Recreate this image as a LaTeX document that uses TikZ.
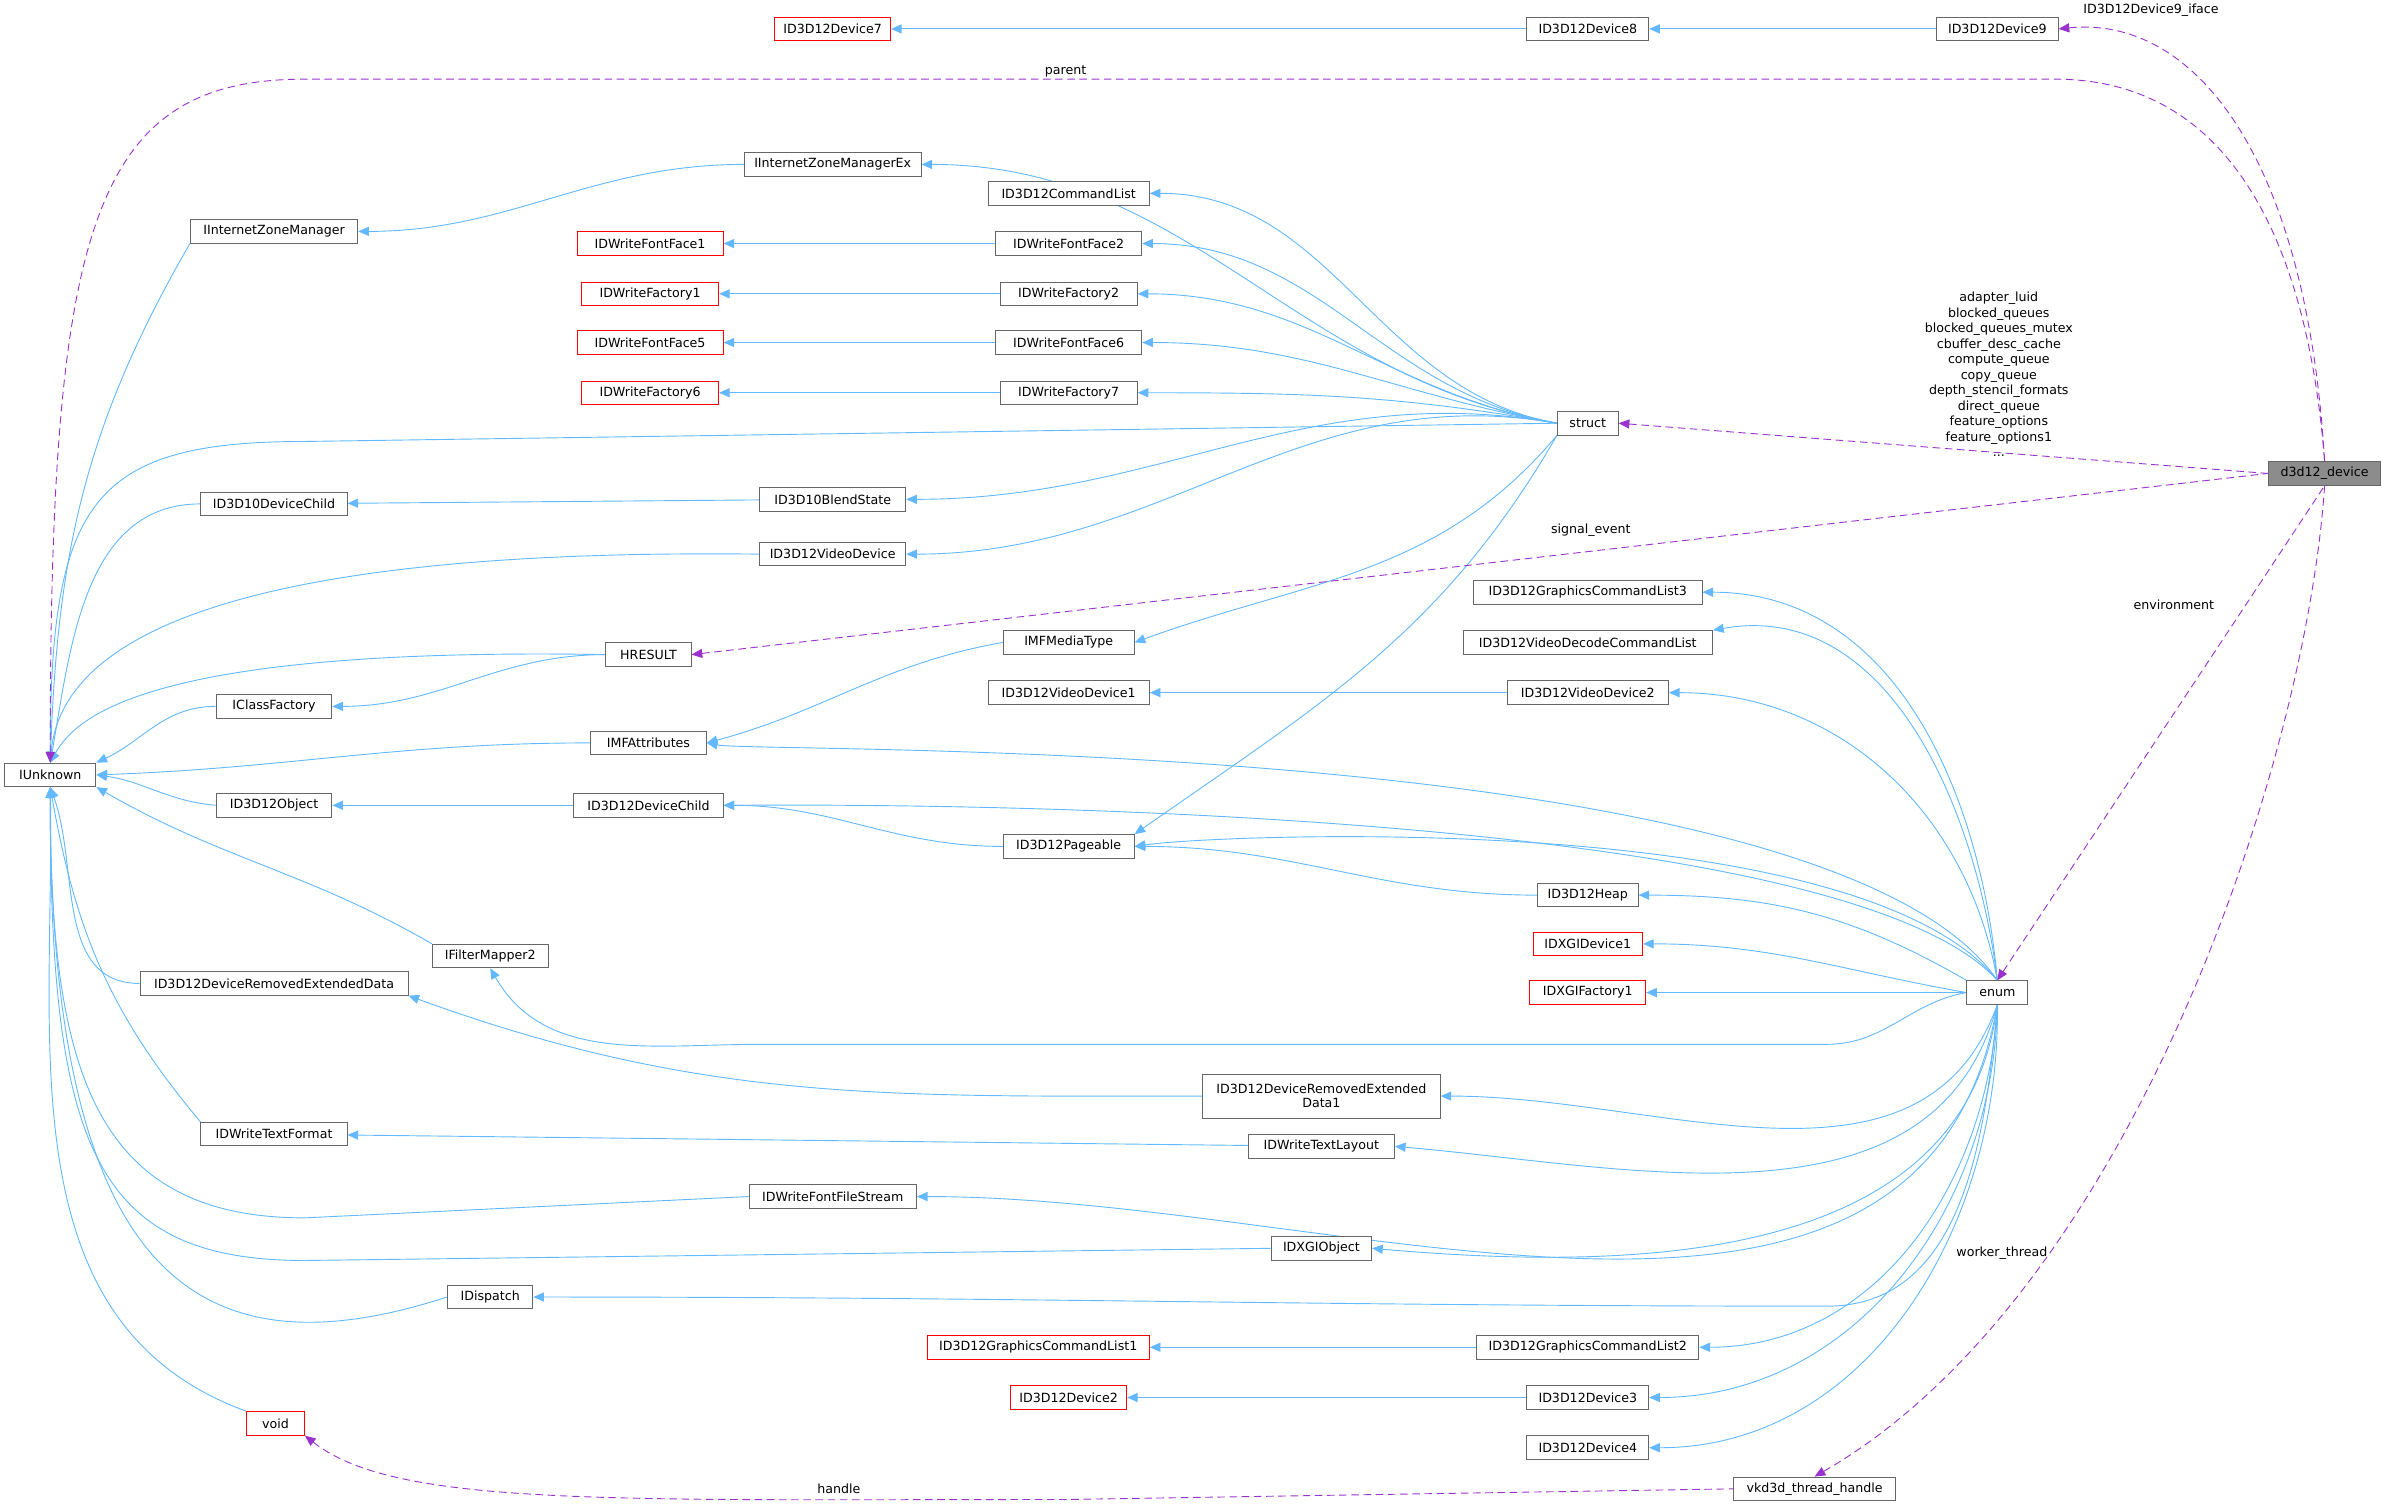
\documentclass[tikz,border=0pt]{standalone}
\usepackage{fontspec}
\setmainfont{DejaVu Sans}
\usetikzlibrary{arrows.meta}
\definecolor{eb}{HTML}{63B8FF}
\definecolor{ep}{HTML}{9A32CD}
\pgfdeclarelayer{bg}
\pgfsetlayers{bg,main}
\begin{document}
\begin{tikzpicture}[x=1pt,y=-1pt,
 n/.style={draw=black!60,fill=white,font=\fontsize{8.3}{9.2}\selectfont,inner sep=0pt,minimum height=15.5pt,line width=0.6pt,align=center},
 r/.style={n,draw=red},
 inh/.style={draw=eb,line width=0.6pt,{Triangle[length=7pt,width=6pt,fill=eb]}-},
 dep/.style={draw=ep,line width=0.6pt,dash pattern=on 5pt off 3pt,{Triangle[length=7pt,width=6pt,fill=ep]}-},
 lb/.style={font=\fontsize{8.3}{10.2}\selectfont,align=center,inner sep=1pt}]
\useasboundingbox (0,0) rectangle (1568,990);
\def\N#1#2#3#4#5{\node[#1,minimum width=#4pt] (#2) at #3 {#5};}
\N{n}{IU}{(33,509)}{60}{IUnknown}
\N{n}{IIZM}{(180,152)}{110}{IInternetZoneManager}
\N{n}{D10DC}{(180,331)}{96}{ID3D10DeviceChild}
\N{n}{ICF}{(180,464)}{76}{IClassFactory}
\N{n}{D12O}{(180,529)}{76}{ID3D12Object}
\N{n}{DRED}{(180,646)}{176}{ID3D12DeviceRemovedExtendedData}
\N{n}{TF}{(180,745)}{96}{IDWriteTextFormat}
\N{n}{IDisp}{(322,852)}{56}{IDispatch}
\N{r}{void}{(181,935)}{38}{void}
\N{n}{IFM2}{(322,628)}{76}{IFilterMapper2}
\N{n}{HR}{(426,430)}{56}{HRESULT}
\N{n}{IMFA}{(426,488)}{76}{IMFAttributes}
\N{n}{D12DC}{(426,529)}{98}{ID3D12DeviceChild}
\N{n}{IIZMEx}{(547,108)}{116}{IInternetZoneManagerEx}
\N{n}{BS}{(547,328)}{96}{ID3D10BlendState}
\N{n}{VD}{(547,364)}{96}{ID3D12VideoDevice}
\N{n}{FFS}{(547,786)}{110}{IDWriteFontFileStream}
\N{r}{Dev7}{(547,19)}{76}{ID3D12Device7}
\N{n}{CL}{(702,127)}{106}{ID3D12CommandList}
\N{n}{FF2}{(702,160)}{96}{IDWriteFontFace2}
\N{n}{F2}{(702,193)}{90}{IDWriteFactory2}
\N{n}{FF6}{(702,225)}{96}{IDWriteFontFace6}
\N{n}{F7}{(702,258)}{90}{IDWriteFactory7}
\N{r}{FF1}{(427,160)}{96}{IDWriteFontFace1}
\N{r}{F1}{(427,193)}{90}{IDWriteFactory1}
\N{r}{FF5}{(427,225)}{96}{IDWriteFontFace5}
\N{r}{F6}{(427,258)}{90}{IDWriteFactory6}
\N{n}{MT}{(702,422)}{86}{IMFMediaType}
\N{n}{VD1}{(702,455)}{106}{ID3D12VideoDevice1}
\N{n}{PG}{(702,556)}{86}{ID3D12Pageable}
\N{n}{Dev8}{(1043,19)}{80}{ID3D12Device8}
\N{n}{Dev9}{(1312,19)}{80}{ID3D12Device9}
\N{n}{struct}{(1043,278)}{40}{struct}
\N{n}{GCL3}{(1043,389)}{150}{ID3D12GraphicsCommandList3}
\N{n}{VDCL}{(1043,422)}{164}{ID3D12VideoDecodeCommandList}
\N{n}{VD2}{(1043,455)}{106}{ID3D12VideoDevice2}
\N{n}{Heap}{(1043,588)}{66}{ID3D12Heap}
\N{r}{XD1}{(1043,620)}{72}{IDXGIDevice1}
\N{r}{XF1}{(1043,652)}{76}{IDXGIFactory1}
\node[n,minimum width=156pt,minimum height=29pt] (DRED1) at (868,720) {ID3D12DeviceRemovedExtended\\Data1};
\N{n}{TL}{(868,753)}{96}{IDWriteTextLayout}
\N{n}{XO}{(868,820)}{66}{IDXGIObject}
\N{r}{GCL1}{(682,885)}{146}{ID3D12GraphicsCommandList1}
\N{n}{GCL2}{(1043,885)}{146}{ID3D12GraphicsCommandList2}
\N{r}{Dev2}{(702,918)}{76}{ID3D12Device2}
\N{n}{Dev3}{(1043,918)}{80}{ID3D12Device3}
\N{n}{Dev4}{(1043,951)}{80}{ID3D12Device4}
\N{n}{VTH}{(1192,978)}{106}{vkd3d\_thread\_handle}
\N{n}{enum}{(1312,652)}{40}{enum}
\node[n,fill=black!45,minimum width=74pt] (DEV) at (1527,311) {d3d12\_device};
\begin{pgfonlayer}{bg}
% chains
\draw[inh] (Dev7) -- (Dev8); \draw[inh] (Dev8) -- (Dev9);
\foreach \a/\b in {FF1/FF2,F1/F2,FF5/FF6,F6/F7,D10DC/BS,D12O/D12DC,VD1/VD2,TF/TL,GCL1/GCL2,Dev2/Dev3}
 \draw[inh] (\a) -- (\b);
\draw[inh] (IIZM.east) to[out=0,in=180] (IIZMEx.west);
\draw[inh] (ICF.east) to[out=0,in=180] (HR.west);
\draw[inh] (IMFA.east) to[out=15,in=190] (MT.west);
\draw[inh] (D12DC.east) to[out=0,in=180] (PG.west);
\draw[inh] (PG.east) to[out=0,in=180] (Heap.west);
\draw[inh] (DRED.south east) to[out=-20,in=180] (DRED1.west);
% IUnknown fan
\draw[inh] (IU.north) to[out=88,in=-120] (IIZM.south west);
\draw[inh] (IU.north) .. controls (33,330) and (60,290) .. (200,290) -- (struct.west);
\draw[inh] (IU.north) to[out=80,in=180] (D10DC.west);
\draw[inh] (IU.north) .. controls (40,420) and (150,360) .. (VD.west);
\draw[inh] (IU.north) .. controls (50,470) and (100,425) .. (HR.west);
\draw[inh] (IU.north east) to[out=25,in=180] (ICF.west);
\draw[inh] (IU.east) to[out=2,in=180] (IMFA.west);
\draw[inh] (IU.east) to[out=-8,in=175] (D12O.west);
\draw[inh] (IU.south east) to[out=-30,in=150] (IFM2.north west);
\draw[inh] (IU.south) to[out=-70,in=180] (DRED.west);
\draw[inh] (IU.south) to[out=-80,in=130] (TF.north west);
\draw[inh] (IU.south) .. controls (33,700) and (60,800) .. (200,800) -- (FFS.west);
\draw[inh] (IU.south) .. controls (33,750) and (60,828) .. (200,828) -- (XO.west);
\draw[inh] (IU.south) .. controls (33,840) and (130,905) .. (IDisp.west);
\draw[inh] (IU.south) to[out=-89,in=160] (void.north west);
% struct fan
\foreach \a in {IIZMEx,CL,FF2,F2,FF6,F7,BS,VD}
 \draw[inh] (\a.east) to[out=0,in=170] (struct.west);
\draw[inh] (MT.east) to[out=20,in=-130] (struct.south west);
\draw[inh] (PG.north east) to[out=35,in=-120] (struct.south west);
% enum fan
\draw[inh] (GCL3.east) to[out=0,in=95] (enum.north);
\draw[inh] (VDCL.north east) to[out=10,in=97] (enum.north);
\draw[inh] (VD2.east) to[out=0,in=100] (enum.north);
\draw[inh] (IMFA.east) .. controls (500,495) and (1200,480) .. (enum.north);
\draw[inh] (D12DC.east) .. controls (500,529) and (1200,520) .. (enum.north);
\draw[inh] (PG.east) .. controls (800,548) and (1220,530) .. (enum.north);
\draw[inh] (Heap.east) to[out=0,in=150] (enum.north west);
\draw[inh] (XD1.east) to[out=0,in=170] (enum.west);
\draw[inh] (XF1.east) -- (enum.west);
\draw[inh] (IFM2.south) to[out=-60,in=180] (500,686) -- (1200,686) to[out=0,in=-170] (enum.west);
\draw[inh] (DRED1.east) to[out=0,in=-110] (enum.south);
\draw[inh] (TL.east) to[out=-5,in=-105] (enum.south);
\draw[inh] (FFS.east) to[out=0,in=-100] (enum.south);
\draw[inh] (XO.east) to[out=-5,in=-97] (enum.south);
\draw[inh] (IDisp.east) to[out=0,in=180] (1200,858) to[out=0,in=-95] (enum.south);
\draw[inh] (GCL2.east) to[out=0,in=-93] (enum.south);
\draw[inh] (Dev3.east) to[out=0,in=-91] (enum.south);
\draw[inh] (Dev4.east) to[out=0,in=-89] (enum.south);
% dependencies
\draw[dep] (IU.north) .. controls (33,150) and (60,52) .. (200,52) -- (1350,52) .. controls (1460,52) and (1515,150) .. (DEV.north);
\draw[dep] (Dev9.east) .. controls (1440,10) and (1515,100) .. (DEV.north);
\draw[dep] (struct.east) -- (DEV.west);
\draw[dep] (HR.east) -- (DEV.west);
\draw[dep] (enum.north) -- (DEV.south);
\draw[dep] (VTH.north) .. controls (1400,850) and (1515,500) .. (DEV.south);
\draw[dep] (void.south east) .. controls (260,990) and (400,985) .. (700,985) -- (VTH.west);
\end{pgfonlayer}
\node[lb] at (700,47) {parent};
\node[lb] at (1413,7) {ID3D12Device9\_iface};
\node[lb] at (1313,246) {adapter\_luid\\blocked\_queues\\blocked\_queues\_mutex\\cbuffer\_desc\_cache\\compute\_queue\\copy\_queue\\depth\_stencil\_formats\\direct\_queue\\feature\_options\\feature\_options1\\...};
\node[lb] at (1045,348) {signal\_event};
\node[lb] at (1428,397) {environment};
\node[lb] at (1315,823) {worker\_thread};
\node[lb] at (551,978) {handle};
\end{tikzpicture}
\end{document}
